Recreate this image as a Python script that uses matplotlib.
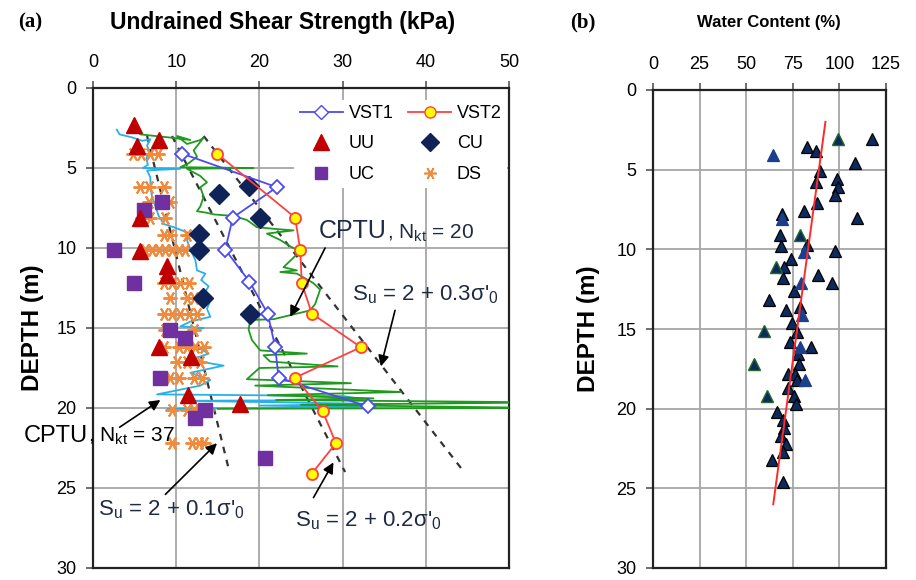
import matplotlib
matplotlib.use("Agg")
import matplotlib.pyplot as plt
from matplotlib.lines import Line2D

plt.rcParams['font.family'] = ['Liberation Sans', 'DejaVu Sans']
plt.rcParams['mathtext.default'] = 'regular'

# ---- panel (a): undrained shear strength ----
vst1_depth = [4.1, 6.2, 8.1, 10.1, 12.1, 14.1, 16.2, 18.1, 19.9]
vst1_su = [10.7, 22.1, 16.8, 15.9, 18.8, 21.0, 21.9, 22.3, 33.0]

vst2_depth = [4.1, 8.1, 10.1, 12.2, 14.1, 16.2, 18.1, 20.2, 22.2, 24.1]
vst2_su = [14.9, 24.3, 24.9, 25.1, 26.3, 32.2, 24.3, 27.6, 29.2, 26.3]

uu_su = [4.9, 7.9, 5.3, 5.7, 5.7, 8.9, 8.9, 7.9, 11.8, 11.4, 17.7]
uu_depth = [2.3, 3.25, 3.6, 8.1, 10.2, 11.1, 11.7, 16.2, 16.8, 19.2, 19.75]

cu_su = [18.8, 15.2, 20.1, 12.7, 12.8, 13.2, 18.9]
cu_depth = [6.1, 6.6, 8.1, 9.1, 10.1, 13.1, 14.1]

uc_su = [8.35, 6.1, 2.5, 4.9, 9.2, 11.0, 8.1, 13.5, 12.2, 20.7]
uc_depth = [7.1, 7.6, 10.1, 12.2, 15.1, 15.6, 18.1, 20.1, 20.6, 23.1]

ds_su = [4.8, 5.8, 6.8, 7.8,
         5.7, 6.7, 8.5,
         6.7, 9.3, 6.1,
         5.9, 6.9, 8.7,
         8.5, 9.3, 11.3,
         6.3, 7.1, 7.9, 8.7, 9.5, 10.3, 11.1,
         8.5, 9.5, 10.5, 11.5,
         9.3, 11.3, 12.1,
         8.5, 9.5, 10.5, 11.5, 12.5,
         8.7, 9.3, 12.1,
         8.5, 10.3, 11.3, 12.3, 13.3,
         10.1, 11.3, 12.9,
         9.3, 10.3, 12.1, 13.1,
         9.5, 11.3, 12.1, 12.9, 13.7,
         9.5, 11.9, 12.7, 13.3]
ds_depth = [4.1, 4.1, 4.1, 4.1,
            6.2, 6.2, 6.2,
            7.1, 7.1, 7.6,
            8.1, 8.1, 8.1,
            9.2, 9.2, 9.2,
            10.1, 10.1, 10.1, 10.1, 10.1, 10.1, 10.1,
            12.2, 12.2, 12.2, 12.2,
            13.1, 13.1, 13.1,
            14.1, 14.1, 14.1, 14.1, 14.1,
            15.1, 15.1, 15.1,
            16.2, 16.2, 16.2, 16.2, 16.2,
            17.1, 17.1, 17.1,
            18.1, 18.1, 18.1, 18.1,
            20.1, 20.1, 20.1, 20.1, 20.1,
            22.2, 22.2, 22.2, 22.2]

# CPTU traces (Nkt = 20 green, Nkt = 37 cyan)
cptu20_su = [5.1, 5.7, 9.3, 11.7, 10.1, 11.3, 12.9, 13.3, 12.1, 12.5, 11.5, 10.5, 19.3, 11.3,
             12.9, 13.7, 12.9, 13.3, 12.9, 12.5, 13.7, 14.5, 16.9, 18.5, 19.7, 21.7, 24.1,
             20.9, 22.5, 23.7, 24.9, 22.9, 24.5, 22.5, 24.5, 26.5, 27.3, 26.7, 26.1, 21.7,
             18.9, 18.7, 19.1, 20.1, 25.7, 20.5, 21.3, 29.4, 20.0, 18.5, 31.0, 19.5, 37.0,
             21.0, 33.7, 22.0, 55.0, 25.0, 55.0, 15.0]
cptu20_depth = [2.6, 2.9, 3.1, 3.25, 3.0, 3.5, 3.25, 3.1, 3.9, 4.3, 4.7, 4.95, 5.0, 5.05,
                5.5, 5.9, 6.2, 6.8, 7.4, 7.7, 7.8, 7.9, 8.0, 8.25, 8.7, 8.8, 8.9,
                9.1, 9.5, 9.9, 10.2, 11.2, 11.4, 11.5, 11.6, 12.2, 12.6, 13.5, 13.9, 14.45,
                14.5, 15.1, 15.75, 16.4, 16.6, 16.7, 17.1, 17.4, 17.5, 18.2, 18.45, 18.6, 19.0,
                19.2, 19.4, 19.5, 19.65, 19.8, 20.0, 20.05]

cptu37_su = [2.85, 3.2, 4.8, 5.9, 6.9, 6.5, 6.8, 6.4, 6.6, 6.0, 10.5, 6.5, 6.9, 6.9, 7.1,
             7.5, 7.9, 8.5, 9.7, 10.7, 11.7, 11.3, 11.7, 12.3, 12.5, 13.5, 13.0, 13.9, 13.3,
             14.1, 13.7, 14.1, 11.7, 10.5, 13.3, 11.7, 11.3, 12.9, 13.9, 11.7, 15.7, 11.7,
             14.1, 12.9, 7.7, 30.0, 33.0, 11.0, 34.6, 20.0, 34.0, 9.0, 12.0]
cptu37_depth = [2.6, 2.9, 3.1, 3.3, 3.2, 3.6, 4.0, 4.4, 4.8, 5.0, 5.05, 5.15, 5.6, 6.2, 6.8,
                7.4, 8.0, 8.5, 8.7, 8.9, 9.1, 9.5, 10.1, 10.75, 11.4, 11.6, 12.0, 12.4, 12.9,
                13.3, 13.8, 14.3, 14.6, 14.9, 15.0, 15.2, 15.75, 16.3, 16.6, 17.0, 17.35, 17.8,
                18.25, 18.6, 19.15, 19.25, 19.5, 19.55, 19.75, 19.85, 19.95, 20.05, 20.1]

# Su = 2 + k*sigma'_0 reference lines (end points)
line_depth = [3.0, 24.0]
su_01 = [6.5, 16.4]
su_02 = [9.5, 30.3]
su_03 = [13.3, 44.6]

# ---- panel (b): water content ----
wc_navy = [117.7, 82.4, 87.4, 108.3, 89.6, 98.7, 87.4, 99.4, 97.5, 88.1, 81.1, 69.3,
           109.7, 68.1, 82.7, 68.6, 97.9, 73.8, 70.4, 88.6, 69.8, 95.8, 75.6, 62.0,
           71.2, 79.0, 74.7, 77.3, 73.4, 84.7, 77.9, 78.4, 72.5, 76.1, 77.0, 72.5,
           75.7, 76.5, 66.3, 69.5, 70.4, 68.9, 71.1, 69.8, 64.1, 69.8]
wc_navy_depth = [3.1, 3.6, 3.8, 4.6, 5.1, 5.6, 5.8, 6.1, 6.6, 7.1, 7.6, 7.8,
                 8.05, 9.1, 9.7, 9.8, 10.1, 10.6, 11.1, 11.6, 11.8, 12.1, 12.6, 13.15,
                 13.8, 13.65, 14.6, 15.2, 15.8, 16.1, 16.6, 17.2, 17.8, 17.8, 18.2, 18.7,
                 19.2, 19.7, 20.2, 20.7, 21.2, 21.7, 22.2, 22.7, 23.2, 24.6]
wc_green = [99.0, 79.0, 65.9, 59.3, 54.3, 61.2]
wc_green_depth = [3.1, 9.1, 11.1, 15.1, 17.2, 19.2]
wc_blue = [64.5, 69.3, 81.1, 79.5, 80.0, 78.8, 81.8]
wc_blue_depth = [4.1, 8.1, 10.15, 12.1, 14.1, 16.1, 18.2]

trend_wc = [92.5, 64.5]
trend_depth = [2.0, 26.0]

W, H = 916, 580
fig = plt.figure(figsize=(W / 100, H / 100), dpi=100)
axa = fig.add_axes([93 / W, 12 / H, 416 / W, 480 / H])
axb = fig.add_axes([653 / W, 12 / H, 233 / W, 478 / H])

grid_c = '#a6a6a6'
for ax in (axa, axb):
    ax.set_ylim(30, 0)
    ax.set_yticks(range(0, 31, 5))
    ax.xaxis.tick_top()
    ax.grid(True, color=grid_c, lw=1.3, zorder=0)
    ax.set_axisbelow(True)
    ax.tick_params(direction='out', length=5, width=1.2, labelsize=13, color='#555555')
    ax.tick_params(axis='x', pad=7)
    ax.tick_params(axis='y', pad=7)
    for s in ax.spines.values():
        s.set_linewidth(1.6)
        s.set_color('#222222')
    ax.set_ylabel('DEPTH (m)', fontsize=17.5, fontweight='bold', labelpad=9)
axb.yaxis.labelpad = 12

axa.set_xlim(0, 50)
axa.set_xticks(range(0, 51, 10))
axb.set_xlim(0, 125)
axb.set_xticks(range(0, 126, 25))

# dashed Su lines
for su in (su_01, su_02, su_03):
    axa.plot(su, line_depth, ls=(0, (3, 3)), color='#333333', lw=1.6, zorder=2)

axa.plot(cptu37_su, cptu37_depth, color='#2ab0e8', lw=1.3, zorder=3)
axa.plot(cptu20_su, cptu20_depth, color='#1f9a1f', lw=1.3, zorder=3)

axa.plot(ds_su, ds_depth, ls='none', marker=(6, 2, 90), ms=10, mew=1.4, color='#f08a3c', zorder=4)
axa.plot(uc_su, uc_depth, ls='none', marker='s', ms=10, color='#7030a0', zorder=5)
axa.plot(uu_su, uu_depth, ls='none', marker='^', ms=12, color='#c00000', zorder=5)
axa.plot(cu_su, cu_depth, ls='none', marker='D', ms=10, color='#0f2358', zorder=5)
axa.plot(vst1_su, vst1_depth, color='#4b4bf0', lw=1.3, marker='D', ms=7, mfc='white',
         mec='#4b4bf0', mew=1.3, zorder=6)
axa.plot(vst2_su, vst2_depth, color='#ff4040', lw=1.3, marker='o', ms=8, mfc='#ffff00',
         mec='#ff4040', mew=1.3, zorder=6)

handles = [
    Line2D([], [], color='#4b4bf0', lw=1.3, marker='D', ms=7, mfc='white', mec='#4b4bf0'),
    Line2D([], [], ls='none', marker='^', ms=12, color='#c00000'),
    Line2D([], [], ls='none', marker='s', ms=9, color='#7030a0'),
    Line2D([], [], color='#ff4040', lw=1.3, marker='o', ms=8, mfc='#ffff00', mec='#ff4040'),
    Line2D([], [], ls='none', marker='D', ms=9, color='#0f2358'),
    Line2D([], [], ls='none', marker=(6, 2, 90), ms=9, mew=1.2, color='#f08a3c'),
]
labels = ['VST1', 'UU', 'UC', 'VST2', 'CU', 'DS']
leg = axa.legend(handles, labels, ncol=2, loc='upper right', bbox_to_anchor=(0.995, 0.976),
                 fontsize=13, frameon=True, framealpha=1, edgecolor='none', fancybox=False,
                 handlelength=2.4, columnspacing=0.8, handletextpad=0.3, labelspacing=0.75,
                 borderpad=0.3, borderaxespad=0.0)
leg.set_zorder(10)

txt_c = '#1f2a44'
arrow = dict(arrowstyle='-|>', color='k', lw=1.2, mutation_scale=16, shrinkA=0, shrinkB=0)

axa.text(35.3, 9.4, 'CPTU', fontsize=18, ha='right', va='baseline', color=txt_c, zorder=11)
axa.text(35.3, 9.4, ', N$_{kt}$ = 20', fontsize=15, ha='left', va='baseline', color=txt_c, zorder=11)
axa.annotate('', xy=(23.7, 14.3), xytext=(27.9, 10.0), arrowprops=arrow, zorder=11)

axa.text(-0.6, 22.1, 'CPTU', fontsize=17, ha='right', va='baseline', color='k',
         clip_on=False, zorder=11)
axa.text(-0.6, 22.1, ', N$_{kt}$ = 37', fontsize=15, ha='left', va='baseline', color='k', zorder=11)
axa.annotate('', xy=(8.1, 19.5), xytext=(3.2, 21.2), arrowprops=arrow, zorder=11)

axa.text(31.1, 13.25, "S$_u$ = 2 + 0.3σ'$_0$", fontsize=16, ha='left', va='baseline',
         color=txt_c, zorder=11)
axa.annotate('', xy=(34.6, 17.4), xytext=(36.3, 13.9), arrowprops=arrow, zorder=11)

axa.text(0.6, 26.7, "S$_u$ = 2 + 0.1σ'$_0$", fontsize=16, ha='left', va='baseline',
         color=txt_c, zorder=11)
axa.annotate('', xy=(14.9, 22.2), xytext=(8.7, 25.4), arrowprops=arrow, zorder=11)

axa.text(24.3, 27.4, "S$_u$ = 2 + 0.2σ'$_0$", fontsize=16, ha='left', va='baseline',
         color=txt_c, zorder=11)
axa.annotate('', xy=(28.9, 23.4), xytext=(26.5, 25.6), arrowprops=arrow, zorder=11)

# panel (b)
axb.plot(wc_navy, wc_navy_depth, ls='none', marker='^', ms=9, mfc='#0d2a5c', mec='black',
         mew=0.9, zorder=4)
axb.plot(wc_green, wc_green_depth, ls='none', marker='^', ms=9, mfc='#0d2a5c', mec='#1f6b2a',
         mew=1.0, zorder=4)
axb.plot(wc_blue, wc_blue_depth, ls='none', marker='^', ms=9, mfc='#1c3f8c', mec='#1c3f8c',
         mew=0.9, zorder=4)
axb.plot(trend_wc, trend_depth, color='#ff2a2a', lw=1.4, zorder=5)

fig.text(30 / W, 1 - 22 / H, '(a)', fontsize=15, fontweight='bold', family='Liberation Serif',
         ha='center', va='center')
fig.text(283 / W, 1 - 22 / H, 'Undrained Shear Strength (kPa)', fontsize=16.5, fontweight='bold',
         ha='center', va='center')
fig.text(583 / W, 1 - 22 / H, '(b)', fontsize=15, fontweight='bold', family='Liberation Serif',
         ha='center', va='center')
fig.text(769 / W, 1 - 22 / H, 'Water Content (%)', fontsize=12, fontweight='bold',
         ha='center', va='center')

fig.savefig('out.png', dpi=100)
